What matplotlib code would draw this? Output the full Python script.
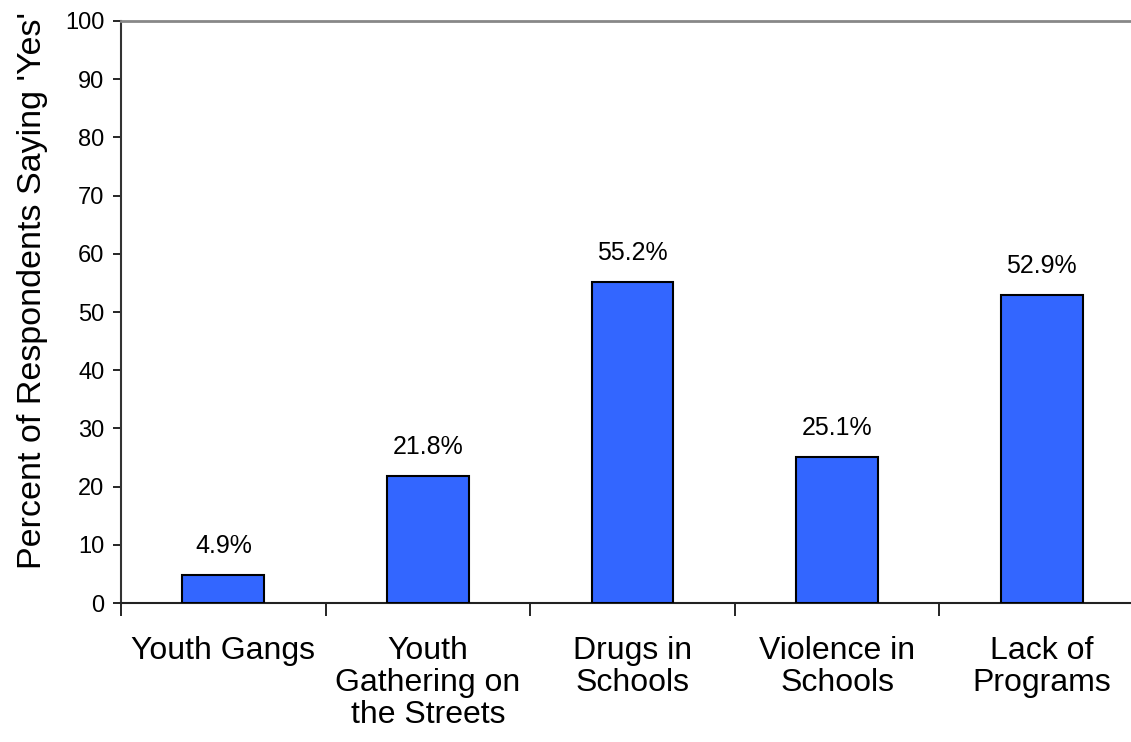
import numpy as np
import matplotlib
matplotlib.use('Agg')
import matplotlib.pyplot as plt

plt.rcParams['font.family'] = ['Liberation Sans', 'DejaVu Sans']

# 数据
categories = ['Youth Gangs', 'Youth\nGathering on\nthe Streets', 'Drugs in\nSchools',
              'Violence in\nSchools', 'Lack of\nPrograms']
values = [4.9, 21.8, 55.2, 25.1, 52.9]
labels = ['4.9%', '21.8%', '55.2%', '25.1%', '52.9%']

fig = plt.figure(figsize=(11.31, 7.42), dpi=100)
ax = fig.add_axes([0.107, 0.1873, 0.9045, 0.7844])

x = np.arange(len(values))
bars = ax.bar(x, values, width=0.40, color='#3366FF', edgecolor='black', linewidth=1.5, zorder=3)

for b, lab in zip(bars, labels):
    ax.annotate(lab, (b.get_x() + b.get_width() / 2, b.get_height()),
                xytext=(0, 12), textcoords='offset points',
                ha='center', va='bottom', fontsize=18)

ax.set_xlim(-0.5, len(values) - 0.5)
ax.set_ylim(0, 100)
ax.set_yticks(np.arange(0, 101, 10))
ax.tick_params(axis='y', labelsize=17, length=6, width=1.2, direction='out', pad=6)

# 类别标签在柱中心，刻度线在类别边界
ax.set_xticks(x)
ax.set_xticklabels(categories, fontsize=23, linespacing=1.07, va='top')
ax.tick_params(axis='x', which='major', length=0, pad=24)
ax.set_xticks(np.arange(-0.5, len(values) + 0.5, 1), minor=True)
ax.tick_params(axis='x', which='minor', length=9, width=1.2, direction='out')

ax.set_ylabel("Percent of Respondents Saying 'Yes'", fontsize=24.5)
ax.yaxis.set_label_coords(-0.071, 0.537)

ax.spines['right'].set_visible(False)
ax.spines['top'].set_color('#888888')
ax.spines['top'].set_linewidth(2)
ax.spines['left'].set_color('#333333')
ax.spines['left'].set_linewidth(1.5)
ax.spines['bottom'].set_color('#222222')
ax.spines['bottom'].set_linewidth(1.5)

fig.savefig('out.png', dpi=100)
